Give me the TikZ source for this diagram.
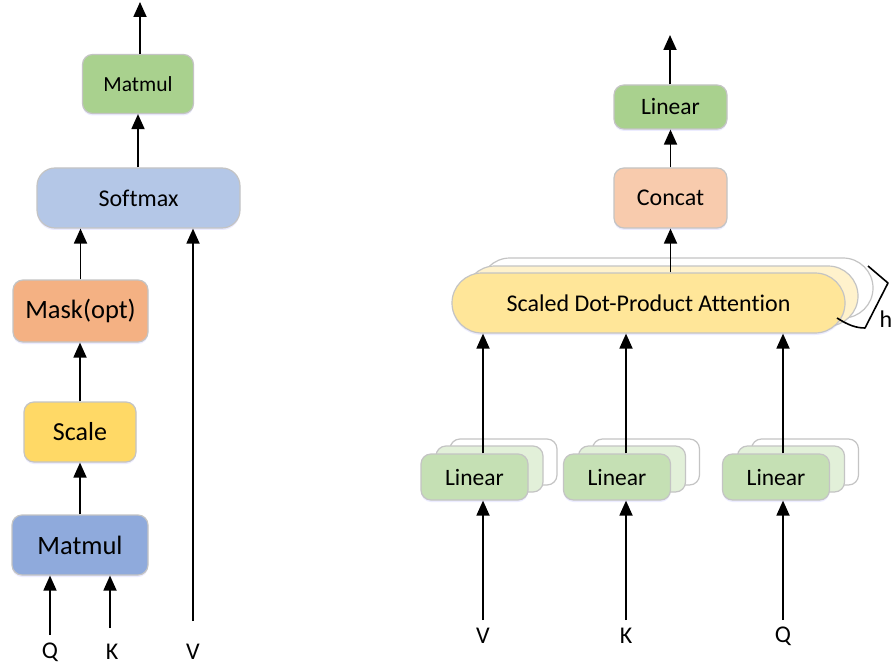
\documentclass[tikz,border=0pt]{standalone}
\usepackage{fontspec}
\setmainfont{Carlito}[Ligatures={NoCommon}]
\usetikzlibrary{arrows.meta,shadows}
\definecolor{bordergray}{HTML}{C4C4C4}
\definecolor{cgreen}{HTML}{A9D18E}
\definecolor{clgreen}{HTML}{C5E0B4}
\definecolor{cpalegreen}{HTML}{E2F0D9}
\definecolor{cblue}{HTML}{B4C7E7}
\definecolor{cdblue}{HTML}{8FAADC}
\definecolor{corange}{HTML}{F4B183}
\definecolor{cpeach}{HTML}{F8CBAD}
\definecolor{cyellow}{HTML}{FFD966}
\definecolor{cpaleyellow}{HTML}{FFE699}
\definecolor{ccream}{HTML}{FFF2CC}
\begin{document}
\begin{tikzpicture}[x=1pt,y=-1pt,
  box/.style={draw=bordergray, line width=1.2pt, rounded corners=10pt, align=center, inner sep=0pt,
    drop shadow={opacity=0.18, fill=blue!40, shadow xshift=0pt, shadow yshift=-2pt}},
  plainbox/.style={draw=bordergray, line width=1.2pt, rounded corners=10pt, inner sep=0pt},
  arr/.style={line width=1.8pt, -{Triangle[width=13pt,length=15pt]}},
  lbl/.style={font=\fontsize{24}{28}\selectfont, inner sep=0pt},
  linbox/.style={minimum width=107pt, minimum height=46pt, font=\fontsize{23.5}{27}\selectfont},
  sdpabox/.style={minimum width=393pt, minimum height=60pt, rounded corners=30pt}
]
\useasboundingbox (0,0) rectangle (893,668);
\clip (0,0) rectangle (893,668);
\fill[white] (0,0) rectangle (893,668);

% ---------- Left: scaled dot-product attention ----------
\node[box, fill=cgreen, minimum width=111pt, minimum height=59pt, font=\fontsize{21.5}{25}\selectfont] (mm1) at (138,84) {Matmul};
\node[box, fill=cblue, minimum width=203pt, minimum height=60pt, rounded corners=18pt, font=\fontsize{24}{27}\selectfont] (sm) at (138.5,198) {Softmax};
\node[box, fill=corange, minimum width=135pt, minimum height=62pt, font=\fontsize{26.5}{30}\selectfont] (mask) at (80.5,311) {Mask(opt)};
\node[box, fill=cyellow, minimum width=112pt, minimum height=60pt, font=\fontsize{26}{30}\selectfont] (scale) at (80,432) {Scale};
\node[box, fill=cdblue, minimum width=136pt, minimum height=60pt, font=\fontsize{26.5}{30}\selectfont] (mm2) at (80,545) {Matmul};

\coordinate (outL) at (140,2);
\draw[arr] (mm1.north -| outL) -- (outL);
\draw[arr] (sm.north -| mm1) -- (mm1.south);
\draw[arr] (mask.north) -- (mask.north |- sm.south);
\draw[arr] (scale.north) -- (scale.north |- mask.south);
\draw[arr] (mm2.north) -- (mm2.north |- scale.south);

\node[lbl] (Ql) at (50,652) {Q};
\node[lbl] (Kl) at (112,652) {K};
\node[lbl] (Vl) at (193,652) {V};
\coordinate (qs) at (50,635);
\coordinate (ks) at (110,628);
\coordinate (vs) at (193,621);
\draw[arr] (qs) -- (qs |- mm2.south);
\draw[arr] (ks) -- (ks |- mm2.south);
\draw[arr] (vs) -- (vs |- sm.south);

% ---------- Right: multi-head attention ----------
\node[box, fill=cgreen, minimum width=113pt, minimum height=44pt, font=\fontsize{23.5}{27}\selectfont] (lin) at (670.5,107) {Linear};
\node[box, fill=cpeach, minimum width=113pt, minimum height=60pt, font=\fontsize{24}{27}\selectfont] (concat) at (670.5,198) {Concat};

% SDPA stack
\node[plainbox, sdpabox, fill=white] (sdpa3) at (676.5,288) {};
\node[plainbox, sdpabox, fill=ccream] (sdpa2) at (661.5,296) {};
\node[box, sdpabox, fill=cpaleyellow, font=\fontsize{24}{28}\selectfont] (sdpa) at (648.5,303) {Scaled Dot-Product Attention};

% Linear stacks
\foreach \n/\x in {a/474.5, b/617, c/776}{
  \node[plainbox, linbox, fill=white] (lin\n3) at (\x+29,462) {};
  \node[plainbox, linbox, fill=cpalegreen] (lin\n2) at (\x+15,469) {};
  \node[box, linbox, fill=clgreen] (lin\n) at (\x,477) {Linear};
}

\coordinate (outR) at (670,35);
\draw[arr] (lin.north -| outR) -- (outR);
\draw[arr] (concat.north) -- (concat.north |- lin.south);
\draw[arr] (sdpa.north -| concat) -- (concat.south);

\coordinate (xa) at (483,620);
\coordinate (xb) at (626,620);
\coordinate (xc) at (783,620);
\draw[arr] (xa |- lina.north) -- (xa |- sdpa.south);
\draw[arr] (xb |- linb.north) -- (xb |- sdpa.south);
\draw[arr] (xc |- linc.north) -- (xc |- sdpa.south);
\draw[arr] (xa) -- (xa |- lina.south);
\draw[arr] (xb) -- (xb |- linb.south);
\draw[arr] (xc) -- (xc |- linc.south);

\node[lbl] (Vr) at (483,636) {V};
\node[lbl] (Kr) at (626,636) {K};
\node[lbl] (Qr) at (783,636) {Q};

% brace
\coordinate (br0) at (837,318);
\coordinate (br1) at (865,328);
\coordinate (br2) at (888,283);
\coordinate (br3) at (868,266);
\draw[line width=1.6pt, line join=round] (br0) .. controls (848,325) and (856,328) .. (br1) -- (br2) -- (br3);
\node[lbl, anchor=east] (hl) at (892.5,319) {h};
\end{tikzpicture}
\end{document}
